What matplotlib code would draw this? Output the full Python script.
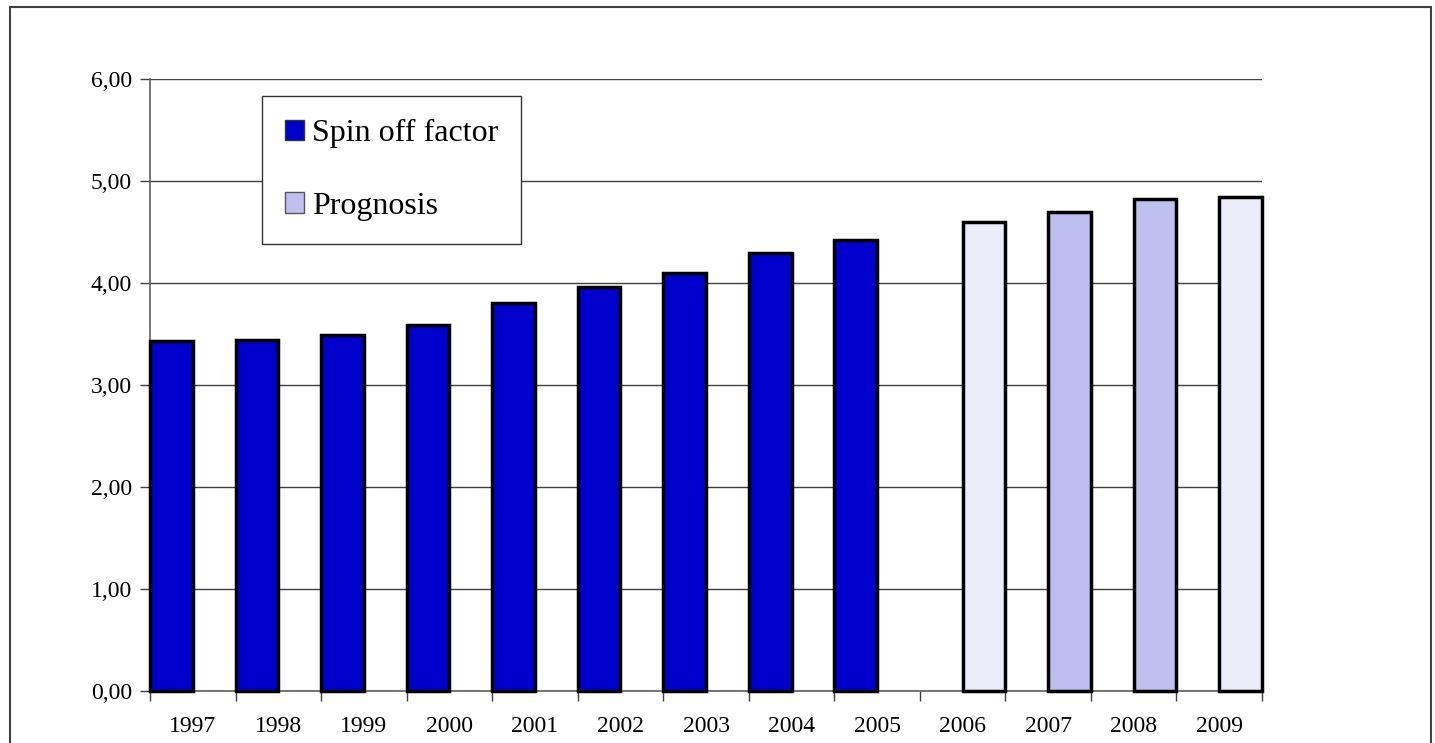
import numpy as np
import matplotlib
matplotlib.use("Agg")
import matplotlib.pyplot as plt
from matplotlib.patches import Rectangle, Patch

years = ["1997", "1998", "1999", "2000", "2001", "2002", "2003",
         "2004", "2005", "2006", "2007", "2008", "2009"]
spin_off = [3.43, 3.44, 3.49, 3.59, 3.80, 3.96, 4.10, 4.29, 4.42,
            np.nan, np.nan, np.nan, np.nan]
prognosis = [np.nan] * 9 + [4.60, 4.70, 4.82, 4.84]
prognosis_colors = ["#ECECF9"] * 9 + ["#ECECF9", "#BDBDF0", "#C0C0F0", "#ECECF9"]
yticks = [0, 1, 2, 3, 4, 5, 6]
ytick_labels = ["0,00", "1,00", "2,00", "3,00", "4,00", "5,00", "6,00"]

plt.rcParams['font.family'] = ['Liberation Serif', 'DejaVu Serif']

fig = plt.figure(figsize=(14.35, 7.43), dpi=100)
ax = fig.add_axes([150/1435, 1 - 691/743, (1262-150)/1435, (691-79)/743])

x = np.arange(len(years))
w = 0.5
b1 = ax.bar(x - w/2, spin_off, width=w, color="#0000CC", edgecolor="black",
            linewidth=2.5, zorder=3)
b2 = ax.bar(x + w/2, prognosis, width=w, color=prognosis_colors, edgecolor="black",
            linewidth=2.5, zorder=3)
for p in list(b1) + list(b2):
    p.set_clip_on(False)

ax.set_xlim(-0.5, len(years) - 0.5)
ax.set_ylim(0, 6)
ax.set_yticks(yticks)
ax.set_yticklabels(ytick_labels, fontsize=17)
ax.set_xticks(x)
ax.set_xticklabels(years, fontsize=17)
ax.set_xticks(np.arange(len(years) + 1) - 0.5, minor=True)
ax.tick_params(axis='x', which='major', length=0, pad=18)
ax.tick_params(axis='x', which='minor', length=7, width=1, color="#404040")
ax.tick_params(axis='y', length=7, width=1, color="#404040", pad=6)

ax.yaxis.grid(True, color="#404040", linewidth=1, zorder=0)
ax.set_axisbelow(True)
for s in ["top", "right"]:
    ax.spines[s].set_visible(False)
for s in ["left", "bottom"]:
    ax.spines[s].set_color("#606060")
    ax.spines[s].set_linewidth(1.2)

handles = [Patch(facecolor="#0000CC", edgecolor="#333333", linewidth=1),
           Patch(facecolor="#C0C0F0", edgecolor="#555555", linewidth=1)]
leg = ax.legend(handles, ["Spin off factor", "Prognosis"], loc="upper left",
                bbox_to_anchor=((262-150)/1112, (691-96)/612),
                fontsize=23, frameon=True, fancybox=False, framealpha=1,
                edgecolor="#333333", handlelength=0.6, handleheight=0.6,
                handletextpad=0.25, labelspacing=1.37, borderpad=0.72,
                borderaxespad=0)
leg.get_frame().set_linewidth(1)
leg.set_zorder(5)

fig.patches.append(Rectangle((10/1435, -0.1), (1431-10)/1435, 1.1 - 7.5/743,
                             transform=fig.transFigure, fill=False,
                             edgecolor="#404040", linewidth=1.5))

fig.savefig("out.png", dpi=100, facecolor="white")
